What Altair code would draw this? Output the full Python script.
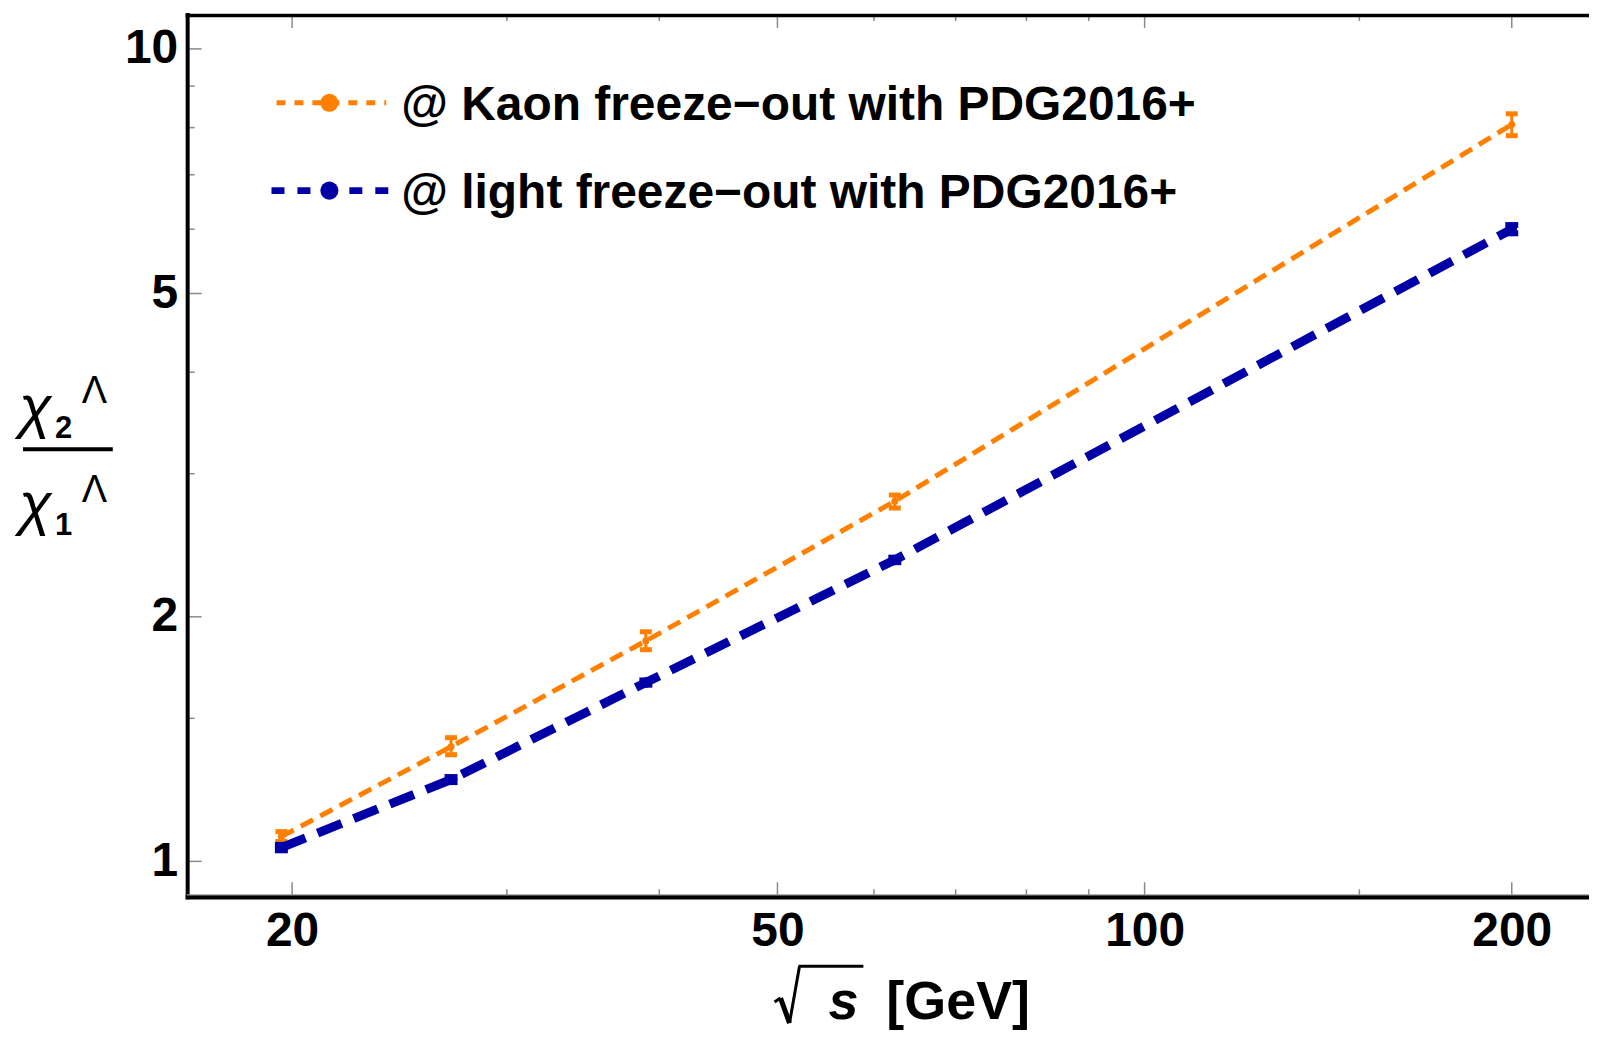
import altair as alt
import pandas as pd

# ---------------- data ----------------
sqrt_s = [19.6, 27.0, 39.0, 62.4, 200.0]
kaon = [1.073, 1.384, 1.868, 2.775, 8.07]
kaon_lo = [1.058, 1.353, 1.822, 2.722, 7.82]
kaon_hi = [1.088, 1.420, 1.917, 2.824, 8.32]
light = [1.040, 1.261, 1.660, 2.350, 6.00]
light_lo = [1.032, 1.252, 1.650, 2.335, 5.93]
light_hi = [1.048, 1.270, 1.670, 2.365, 6.07]

x_major = [20, 50, 100, 200]
x_minor = [30, 40, 60, 70, 80, 90, 150]
y_major = [1, 2, 5, 10]
y_minor = [1.5, 3, 4, 6, 7, 8, 9]

legend_kaon = "@ Kaon freeze\u2212out with PDG2016+"
legend_light = "@ light freeze\u2212out with PDG2016+"

ORANGE = "#FF8000"
BLUE = "#0000A6"
FONT = "Liberation Sans"

W, H = 1405, 882
xscale = alt.Scale(type="log", domain=[16.39, 231.4], nice=False, zero=False)
yscale = alt.Scale(type="log", domain=[0.9084, 11.01], nice=False, zero=False)

xax = alt.Axis(values=x_major, format="d", title=None, grid=False, domain=False,
               ticks=False, labelFont=FONT, labelFontWeight="bold", labelFontSize=48,
               labelColor="black", labelPadding=12, labelFlush=False, labelOverlap=False)
yax = alt.Axis(values=y_major, format="d", title=None, grid=False, domain=False,
               ticks=False, labelFont=FONT, labelFontWeight="bold", labelFontSize=48,
               labelColor="black", labelPadding=9, labelOverlap=False)

df = pd.DataFrame({
    "s": sqrt_s * 2,
    "v": kaon + light,
    "lo": kaon_lo + light_lo,
    "hi": kaon_hi + light_hi,
    "series": ["kaon"] * 5 + ["light"] * 5,
})
dk = df[df.series == "kaon"]
dl = df[df.series == "light"]

X = alt.X("s:Q", scale=xscale, axis=xax)
Y = alt.Y("v:Q", scale=yscale, axis=yax)

def series_layers(d, color, width, dash, cap_w, cap_t, pt_size):
    base = alt.Chart(d)
    line = base.mark_line(color=color, strokeWidth=width, strokeDash=dash,
                          strokeCap="butt").encode(x=X, y=Y)
    pts = base.mark_point(filled=True, color=color, size=pt_size, opacity=1,
                          shape="circle").encode(x=X, y=Y)
    err = base.mark_rule(color=color, strokeWidth=3).encode(
        x=X, y=alt.Y("lo:Q", scale=yscale, axis=yax), y2="hi:Q")
    cap_lo = base.mark_tick(color=color, thickness=cap_t, size=cap_w, orient="horizontal",
                            opacity=1).encode(x=X, y=alt.Y("lo:Q", scale=yscale, axis=yax))
    cap_hi = base.mark_tick(color=color, thickness=cap_t, size=cap_w, orient="horizontal",
                            opacity=1).encode(x=X, y=alt.Y("hi:Q", scale=yscale, axis=yax))
    return [line, err, cap_lo, cap_hi, pts]

layers = []
layers += series_layers(dk, ORANGE, 5, [14, 8], 12, 5, 50)
layers += series_layers(dl, BLUE, 9, [26, 13], 13, 6, 110)

# ---------------- frame ticks (inward) ----------------
tx_maj = pd.DataFrame({"s": x_major})
tx_min = pd.DataFrame({"s": x_minor})
ty_maj = pd.DataFrame({"v": y_major})
ty_min = pd.DataFrame({"v": y_minor})
TICK = "#8a8a8a"
for d, ln in [(tx_maj, 13), (tx_min, 6)]:
    layers.append(alt.Chart(d).mark_rule(color=TICK, strokeWidth=1.5).encode(
        x=alt.X("s:Q", scale=xscale, axis=xax), y=alt.value(H), y2=alt.value(H - ln)))
    layers.append(alt.Chart(d).mark_rule(color=TICK, strokeWidth=1.5).encode(
        x=alt.X("s:Q", scale=xscale, axis=xax), y=alt.value(0), y2=alt.value(ln)))
for d, ln in [(ty_maj, 15), (ty_min, 8)]:
    layers.append(alt.Chart(d).mark_rule(color=TICK, strokeWidth=1.5).encode(
        y=alt.Y("v:Q", scale=yscale, axis=yax), x=alt.value(0), x2=alt.value(ln)))

# ---------------- frame lines ----------------
one = pd.DataFrame({"k": [0]})

def seg(x1, y1, x2, y2, width, color="black", cap="butt"):
    return alt.Chart(one).mark_rule(color=color, strokeWidth=width, strokeCap=cap).encode(
        x=alt.value(x1), x2=alt.value(x2), y=alt.value(y1), y2=alt.value(y2))

layers.append(seg(1, -2, 1, H + 4, 4))
layers.append(seg(-1, 0.5, W, 0.5, 3.5))
layers.append(seg(-1, H + 2, W, H + 2, 4.5))
layers.append(seg(0, H - 0.5, W, H - 0.5, 1.2, color="#9a9a9a"))

# ---------------- legend (manual) ----------------
def legend_row(ycen, color, width, dash, x1, x2, text):
    out = []
    out.append(alt.Chart(one).mark_rule(color=color, strokeWidth=width, strokeDash=dash,
                                        strokeCap="butt").encode(
        x=alt.value(x1), x2=alt.value(x2), y=alt.value(ycen), y2=alt.value(ycen)))
    out.append(alt.Chart(one).mark_point(filled=True, color=color, size=330, opacity=1,
                                         shape="circle").encode(
        x=alt.value(143), y=alt.value(ycen)))
    out.append(alt.Chart(one).mark_text(text=text, font=FONT, fontWeight="bold", fontSize=48,
                                        align="left", baseline="alphabetic", color="black").encode(
        x=alt.value(215), y=alt.value(ycen + 17)))
    return out

layers += legend_row(88, ORANGE, 5, [9, 9], 90, 200, legend_kaon)
layers += legend_row(176, BLUE, 7, [13, 13], 85, 206, legend_light)

# ---------------- y title: chi2^Lambda / chi1^Lambda ----------------
def txt(t, x, y, size, weight="normal", style="normal", align="left"):
    return alt.Chart(one).mark_text(text=t, font=FONT, fontSize=size, fontWeight=weight,
                                    fontStyle=style, align=align, baseline="alphabetic",
                                    color="black").encode(x=alt.value(x), y=alt.value(y))

layers.append(txt("\u03c7", -168, 413, 60, style="italic"))
layers.append(txt("2", -132, 424, 31, weight="bold"))
layers.append(txt("\u039b", -105, 389, 38))
layers.append(seg(-164, 435, -74, 435, 4))
layers.append(txt("\u03c7", -168, 510, 60, style="italic"))
layers.append(txt("1", -132, 521, 31, weight="bold"))
layers.append(txt("\u039b", -105, 488, 38))

# ---------------- x title: sqrt(s) [GeV] ----------------
dy = 5
layers.append(seg(589, 984 + dy, 595, 980 + dy, 3))
layers.append(seg(595, 980 + dy, 604, 1005 + dy, 5))
layers.append(seg(604, 1005 + dy, 614, 948 + dy, 3))
layers.append(seg(613, 948 + dy, 678, 948 + dy, 3))
layers.append(txt("s", 643, 1001 + dy, 54, weight="bold", style="italic"))
layers.append(txt("[GeV]", 701, 1001 + dy, 54, weight="bold"))

chart = alt.layer(*layers).properties(
    width=W, height=H,
    autosize=alt.AutoSizeParams(type="none"),
    padding={"left": 179, "top": 6, "right": 0, "bottom": 134},
    background="white",
).configure_view(stroke=None)

chart.save("out.html", embed_options={"renderer": "svg", "actions": False})
